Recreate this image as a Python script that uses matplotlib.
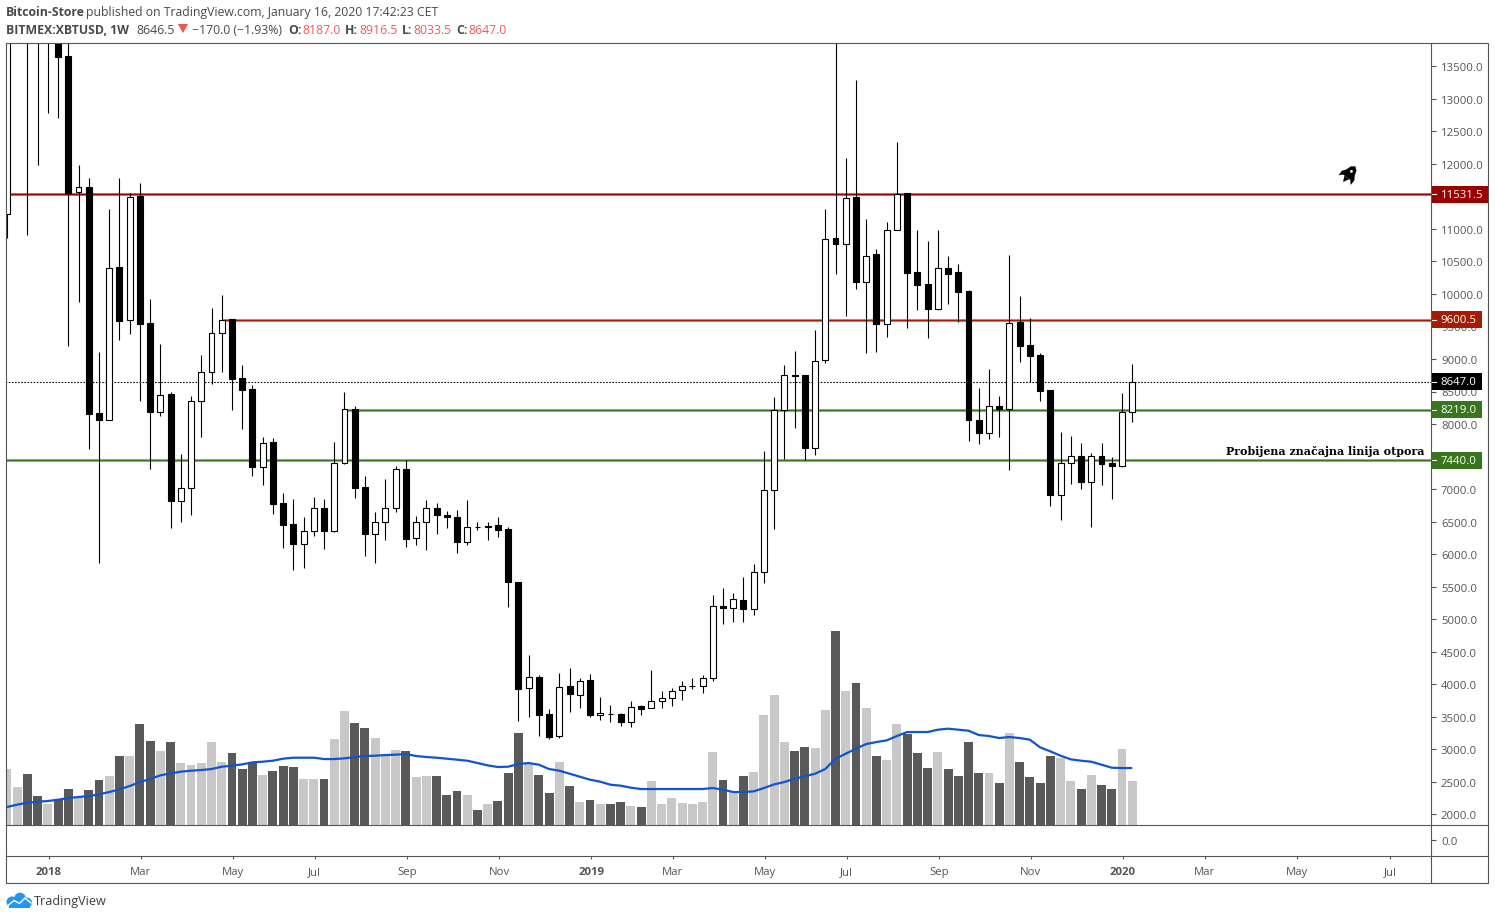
#!/usr/bin/env python
from __future__ import annotations

import matplotlib

matplotlib.use("Agg")
import matplotlib.pyplot as plt
import numpy as np
from matplotlib.patches import Circle, Polygon, Rectangle
from matplotlib.transforms import Affine2D

# weekly XBTUSD candles (first few sit above the visible range)
opens = [
    11224, 14300, 15300, 14200, 13950, 14500, 13654, 11567, 11640, 8165,
    8062, 10410, 9606, 11501, 9549, 8191, 8457, 6822, 7022, 8354,
    8806, 9405, 9610, 8703, 8534, 7345, 7719, 6781, 6458, 6161,
    6361, 6715, 6361, 7407, 8226, 7027, 6315, 6500, 6715, 7304,
    6254, 6500, 6715, 6607, 6577, 6192, 6423, 6417, 6443, 6381,
    5567, 3941, 4106, 3537, 3203, 3967, 3834, 4060, 3521, 3548,
    3537, 3418, 3660, 3634, 3741, 3788, 3917, 3978, 3978, 4101,
    5208, 5177, 5300, 5162, 5731, 6992, 8222, 8760, 8749, 7637,
    8990, 10855, 10774, 11486, 10183, 10609, 9544, 10989, 11547, 10333,
    10148, 9768, 10405, 10333, 10041, 8068, 7862, 8283, 8237, 9564,
    9221, 9057, 8519, 6908, 7407, 7514, 7108, 7514, 7396, 7355, 8187,
]
highs = [
    15000, 17000, 17200, 15000, 15000, 14700, 14400, 11982, 11778, 9103,
    11301, 11778, 11547, 11701, 9917, 9226, 8498, 7534, 8437, 9057,
    9790, 9979, 9621, 8903, 8606, 7807, 7780, 6945, 6853, 6577,
    6884, 6853, 7730, 8498, 8283, 7196, 6653, 7161, 7361, 7453,
    6592, 6838, 6792, 6669, 6684, 6827, 6500, 6489, 6577, 6423,
    5567, 4444, 4136, 3614, 4178, 4255, 4101, 4152, 3799, 3686,
    3552, 3747, 3686, 4213, 3901, 3947, 4055, 4090, 4147, 5366,
    5485, 5408, 5654, 5854, 7591, 8411, 8903, 9118, 8760, 9452,
    11301, 13880, 12085, 13285, 11148, 10697, 11101, 12342, 11558, 10978,
    10809, 10978, 10579, 10456, 10056, 8549, 8841, 8426, 10594, 9964,
    9625, 9087, 8519, 7883, 7811, 7703, 7550, 7703, 7499, 8472, 8916.5,
]
lows = [
    10855, 14000, 10902, 11982, 12782, 12705, 9200, 9876, 7611, 5863,
    8062, 9292, 9380, 8354, 7304, 8123, 6397, 6494, 6601, 7800,
    8615, 8800, 8216, 7923, 7201, 7062, 6616, 6094, 5756, 5786,
    6278, 6078, 6340, 7391, 6862, 5971, 5863, 6217, 6653, 6109,
    6140, 6063, 6309, 6401, 6017, 6140, 6370, 6217, 6263, 5187,
    3434, 3495, 3203, 3152, 3173, 3568, 3634, 3495, 3449, 3418,
    3357, 3342, 3526, 3634, 3634, 3664, 3757, 3926, 3864, 4049,
    4925, 4956, 4956, 5064, 5556, 6386, 7462, 7939, 7447, 7524,
    8938, 10306, 9661, 10076, 9092, 9107, 9338, 10989, 9476, 9753,
    9323, 9753, 9845, 9568, 7739, 7693, 7770, 7800, 7288, 8954,
    8652, 8349, 6739, 6524, 7078, 6996, 6417, 7062, 6847, 7339, 8033.5,
]
closes = [
    14300, 15300, 14200, 13950, 14500, 13643, 11547, 11650, 8149, 8057,
    10405, 9584, 11496, 9538, 8185, 8452, 6816, 7022, 8360, 8806,
    9405, 9605, 8692, 8523, 7339, 7714, 6770, 6447, 6155, 6361,
    6715, 6355, 7407, 8237, 7016, 6309, 6500, 6715, 7315, 6232,
    6500, 6715, 6601, 6570, 6186, 6423, 6420, 6438, 6370, 5571,
    3926, 4117, 3526, 3188, 3963, 3844, 4055, 3526, 3552, 3545,
    3414, 3655, 3614, 3747, 3794, 3901, 3978, 3978, 4101, 5208,
    5171, 5316, 5156, 5731, 6992, 8222, 8760, 8738, 7631, 8975,
    10851, 10768, 11481, 10183, 10590, 9538, 10989, 11543, 10322, 10137,
    9768, 10405, 10306, 10030, 8062, 7862, 8283, 8226, 9559, 9200,
    9046, 8508, 6908, 7407, 7514, 7108, 7514, 7385, 7355, 8191, 8647,
]
# volume has no axis on the chart, so these are in relative units
volumes = [
    168, 114, 153, 87, 61, 78, 108, 84, 105, 135,
    147, 207, 207, 303, 252, 222, 249, 186, 180, 186,
    249, 189, 216, 168, 189, 150, 162, 177, 174, 138,
    138, 138, 258, 342, 306, 291, 261, 210, 225, 222,
    144, 147, 147, 90, 102, 90, 45, 63, 72, 156,
    276, 183, 150, 96, 189, 117, 69, 75, 63, 63,
    69, 57, 54, 132, 63, 81, 66, 63, 69, 219,
    135, 102, 147, 159, 330, 390, 249, 222, 234, 231,
    345, 582, 402, 426, 351, 207, 195, 303, 273, 216,
    171, 219, 168, 147, 249, 156, 156, 126, 276, 189,
    144, 126, 207, 201, 132, 108, 150, 120, 108, 228, 132,
]
volume_ma = [
    53, 60, 66, 69, 71, 75, 80, 83, 86, 91,
    98, 106, 116, 128, 137, 148, 154, 159, 162, 164,
    167, 174, 177, 181, 187, 189, 192, 198, 201, 201,
    201, 197, 197, 199, 203, 206, 207, 209, 210, 212,
    206, 203, 201, 198, 195, 192, 185, 178, 173, 174,
    182, 185, 180, 167, 162, 153, 144, 135, 129, 120,
    117, 111, 107, 107, 107, 107, 107, 107, 107, 110,
    105, 98, 98, 100, 110, 121, 128, 138, 145, 153,
    167, 198, 213, 228, 242, 248, 253, 266, 278, 278,
    278, 285, 288, 285, 282, 269, 266, 260, 263, 260,
    255, 232, 220, 207, 196, 192, 189, 180, 171, 170, 170,
]

level_prices = [11531.5, 9600.5, 8219.0, 7440.0]
level_starts = [0, 21, 33, -1]
level_colors = ["#990000", "#a61c00", "#38761d", "#38761d"]
last_price = 8647.0

price_ticks = np.arange(2000, 14000, 500)
hidden_tick_labels = [7500, 11500]  # sit fully behind the price tags
time_tick_pos = [4.1, 13.1, 22.1, 30.1, 39.1, 48.1, 57.1, 65.1, 74.1, 82.1, 91.1, 100.1, 109.1, 117.1, 126.1, 135.2]
time_tick_labels = ["2018", "Mar", "May", "Jul", "Sep", "Nov", "2019", "Mar", "May", "Jul", "Sep", "Nov", "2020", "Mar", "May", "Jul"]

W, H = 1495, 920
LEFT, RIGHT, TOP, PANE, SEP, BOTTOM, OUTER = 6.3, 1431.3, 43.7, 825.7, 856.7, 883.7, 1488.3
BAR_PX, BAR0_PX = 10.23, 6.9
PX_PER_PRICE = 0.06504
AXIS_COLOR = "#555555"
FONT = "Open Sans"


def _axes_px(fig, left, top, right, bottom, **kwargs):
    return fig.add_axes([left / W, 1 - bottom / H, (right - left) / W, (bottom - top) / H], **kwargs)


def _price_at(y_px: float) -> float:
    return 13500 - (y_px - 67.3) / PX_PER_PRICE


def _draw_candles(ax, x) -> None:
    o, h, l, c = map(np.asarray, (opens, highs, lows, closes))
    ax.vlines(x, l, h, color="black", lw=0.8, zorder=4)
    tops = np.maximum(o, c)
    bottoms = np.minimum(o, c)
    colors = ["black" if cl < op else "white" for op, cl in zip(o, c)]
    ax.bar(x, tops - bottoms, bottom=bottoms, width=0.58, color=colors, edgecolor="black", linewidth=0.8, zorder=5)


def _draw_levels(ax, xmax) -> None:
    for price, start, color in zip(level_prices, level_starts, level_colors):
        ax.hlines(price, start, xmax, color=color, lw=2.2, alpha=0.5, zorder=2)
        ax.hlines(price, start, xmax, color=color, lw=0.9, zorder=3)
    ax.hlines(last_price, -1, xmax, color="black", lw=0.8, linestyle=(0, (1.4, 1.4)), zorder=3)


def _price_tag(ax, price, color, right_px) -> None:
    tr = ax.get_yaxis_transform()
    width = (right_px - RIGHT) / (RIGHT - LEFT)
    height = 17 / PX_PER_PRICE
    ax.add_patch(Rectangle((1, price - height / 2), width, height, transform=tr, color=color, clip_on=False, lw=0, zorder=8))
    ax.plot([1, 1 + 5 / (RIGHT - LEFT)], [price, price], transform=tr, color="white", lw=0.8, clip_on=False, zorder=9)
    ax.text(1 + 9.5 / (RIGHT - LEFT), price, f"{price:.1f}", transform=tr, color="white", fontsize=8.2, family=FONT, va="center", ha="left", zorder=9)


def _draw_rocket(page) -> None:
    body = [(0, 10.5), (3.4, 8), (4.8, 4), (4.8, -3.5), (-4.8, -3.5), (-4.8, 4), (-3.4, 8), (0, 10.5)]
    fin_l = [(-4.8, 3), (-8, -1.5), (-8, -7), (-4.8, -3.5)]
    fin_r = [(4.8, 3), (8, -1.5), (8, -7), (4.8, -3.5)]
    flame = [(-2.8, -4), (2.8, -4), (0, -9.5)]
    tr = Affine2D().scale(0.95).rotate_deg(-38).scale(1, -1).translate(1349, 175.5) + page.transData
    for pts in (body, fin_l, fin_r, flame):
        page.add_patch(Polygon(pts, closed=True, facecolor="black", edgecolor="black", lw=0.3, transform=tr))
    page.add_patch(Circle((0, 4.2), 1.5, facecolor="white", edgecolor="none", transform=tr))


def _draw_logo(page) -> None:
    blue = "#2196f3"
    for cx, cy, r in [(12, 903, 5.5), (20, 899.5, 5.8), (27, 903.5, 5)]:
        page.add_patch(Circle((cx, cy), r, color=blue, lw=0))
    page.add_patch(Rectangle((9, 903), 21, 6, color=blue, lw=0))
    page.plot([8, 14, 19.5, 25, 31], [906.5, 901.5, 904.5, 899, 904], color="white", lw=1.0)
    page.text(34, 901.5, "TradingView", fontsize=9.1, family=FONT, color="#3c3c3c", va="center")


def _draw_header(page) -> None:
    grey = "#4a4a4a"
    red = "#f05a5a"
    row1, row2 = 12.5, 30
    page.text(6, row1, "Bitcoin-Store", fontsize=8.8, weight="bold", family=FONT, color=grey, va="center")
    page.text(86, row1, "published on TradingView.com, January 16, 2020 17:42:23 CET", fontsize=8.8, family=FONT, color=grey, va="center")
    page.text(6, row2, "BITMEX:XBTUSD, 1W", fontsize=8.8, weight="bold", family=FONT, color=grey, va="center")
    page.text(136, row2, "8646.5", fontsize=8.8, family=FONT, color=grey, va="center")
    page.add_patch(Polygon([(178, 25), (188, 25), (183, 34)], closed=True, color="#ef5350", lw=0))
    page.text(192, row2, "\u2212170.0 (\u22121.93%)", fontsize=8.8, family=FONT, color=grey, va="center")
    for x_label, label, x_val, val in [
        (288, "O:", 302, "8187.0"),
        (345, "H:", 359, "8916.5"),
        (402, "L:", 413, "8033.5"),
        (456, "C:", 468, "8647.0"),
    ]:
        page.text(x_label, row2, label, fontsize=8.8, weight="bold", family=FONT, color=grey, va="center")
        page.text(x_val, row2, val, fontsize=8.8, family=FONT, color=red, va="center")


def main() -> None:
    fig = plt.figure(figsize=(W / 100, H / 100), dpi=100, facecolor="white")

    xlim = ((LEFT - BAR0_PX) / BAR_PX, (RIGHT - BAR0_PX) / BAR_PX)
    x = np.arange(len(closes))

    # volume sits in its own axes under the candles, 3 units to the pixel
    ax_vol = _axes_px(fig, LEFT, TOP, RIGHT, PANE, zorder=1)
    ax_vol.set_xlim(xlim)
    ax_vol.set_ylim(0, (PANE - TOP) * 3)
    ax_vol.axis("off")
    vol_colors = ["#595959" if cl < op else "#c8c8c8" for op, cl in zip(opens, closes)]
    ax_vol.bar(x, volumes, width=0.87, color=vol_colors, linewidth=0)
    ax_vol.plot(x, volume_ma, color="#1155cc", lw=1.6, solid_capstyle="butt")

    ax = _axes_px(fig, LEFT, TOP, RIGHT, PANE, zorder=2)
    ax.patch.set_visible(False)
    ax.set_xlim(xlim)
    ax.set_ylim(_price_at(PANE), _price_at(TOP))
    _draw_levels(ax, xlim[1])
    _draw_candles(ax, x)

    ax.yaxis.tick_right()
    ax.set_yticks(price_ticks)
    ax.set_yticklabels(
        ["" if t in hidden_tick_labels else f"{t:.1f}" for t in price_ticks],
        fontsize=8.2,
        family=FONT,
        color=AXIS_COLOR,
    )
    ax.tick_params(axis="y", length=3.6, width=0.8, color=AXIS_COLOR, pad=3.3)
    ax.set_xticks([])
    for spine in ax.spines.values():
        spine.set_visible(False)

    for price, color, right_px in zip(level_prices, level_colors, [1488, 1482, 1482, 1482]):
        _price_tag(ax, price, color, right_px)
    _price_tag(ax, last_price, "black", 1482)

    ax.text(138.6, _price_at(451.5), "Probijena zna\u010dajna linija otpora", family="DejaVu Serif", weight="bold", fontsize=7.9, ha="right", va="center", zorder=7)

    ax_pane = _axes_px(fig, LEFT, PANE, RIGHT, SEP, zorder=2)
    ax_pane.patch.set_visible(False)
    ax_pane.set_xlim(xlim)
    ax_pane.set_ylim(-1, 1)
    ax_pane.yaxis.tick_right()
    ax_pane.set_yticks([0])
    ax_pane.set_yticklabels(["0.0"], fontsize=8.2, family=FONT, color=AXIS_COLOR)
    ax_pane.tick_params(axis="y", length=3.6, width=0.8, color=AXIS_COLOR, pad=3.3)
    ax_pane.set_xticks(time_tick_pos)
    labels = ax_pane.set_xticklabels(time_tick_labels, fontsize=8.2, family=FONT, color=AXIS_COLOR)
    for lab in labels:
        if lab.get_text().isdigit():
            lab.set_fontweight("bold")
    ax_pane.tick_params(axis="x", length=2.5, width=0.8, color=AXIS_COLOR, pad=5)
    for spine in ax_pane.spines.values():
        spine.set_visible(False)

    # page overlay in pixel coordinates: frame, header, logo, rocket
    page = fig.add_axes([0, 0, 1, 1], zorder=3)
    page.set_xlim(0, W)
    page.set_ylim(H, 0)
    page.axis("off")
    page.add_patch(Rectangle((LEFT, TOP), OUTER - LEFT, BOTTOM - TOP, fill=False, edgecolor=AXIS_COLOR, lw=0.8))
    page.plot([LEFT, OUTER], [PANE, PANE], color=AXIS_COLOR, lw=0.8)
    page.plot([LEFT, OUTER], [SEP, SEP], color=AXIS_COLOR, lw=0.8)
    page.plot([RIGHT, RIGHT], [TOP, BOTTOM], color=AXIS_COLOR, lw=0.8)
    _draw_header(page)
    _draw_logo(page)
    _draw_rocket(page)

    fig.savefig("out.png", dpi=100, facecolor="white")
    plt.close(fig)


if __name__ == "__main__":
    main()
